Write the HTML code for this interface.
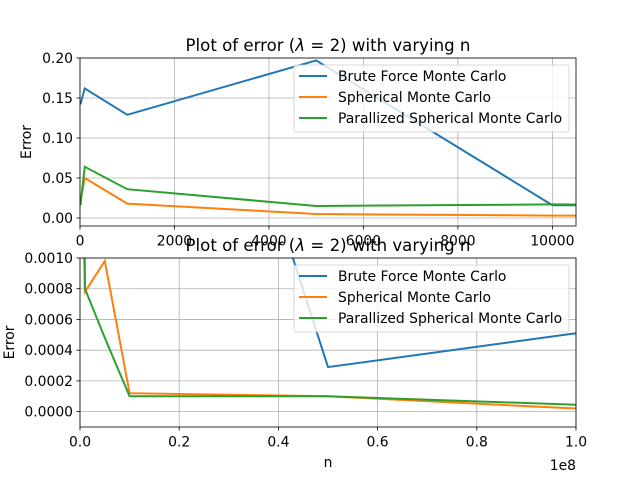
<!DOCTYPE html>
<html><head><meta charset="utf-8"><style>
body{margin:0;background:#fff}
svg text{font-family:"DejaVu Sans","Liberation Sans",sans-serif;fill:#000}
</style></head><body>
<svg id="c" width="640" height="480" viewBox="0 0 640 480" xmlns="http://www.w3.org/2000/svg"></svg>
<script>
const nValues = [10,100,1000,5000,10000,100000,1000000,5000000,10000000,50000000,100000000];
const bruteForce = [0.142,0.162,0.129,0.197,0.016,0.016,0.012,0.008,0.0043,0.00029,0.00051];
const spherical = [0.02,0.05,0.018,0.005,0.003,0.002,0.00078,0.00098,0.00012,0.0001,0.00002];
const parallel = [0.016,0.064,0.036,0.015,0.017,0.005,0.0008,0.00048,0.0001,0.0001,0.000045];
const seriesNames = ["Brute Force Monte Carlo","Spherical Monte Carlo","Parallized Spherical Monte Carlo"];
const topXTicks = [0,2000,4000,6000,8000,10000];
const topYTicks = [0,0.05,0.10,0.15,0.20];
const topYLabels = ["0.00","0.05","0.10","0.15","0.20"];
const botXTicks = [0,0.2e8,0.4e8,0.6e8,0.8e8,1e8];
const botXLabels = ["0.0","0.2","0.4","0.6","0.8","1.0"];
const botYTicks = [0,0.0002,0.0004,0.0006,0.0008,0.001];
const botYLabels = ["0.0000","0.0002","0.0004","0.0006","0.0008","0.0010"];

const NS="http://www.w3.org/2000/svg";
const svg=document.getElementById('c');
const colors=["#1f77b4","#ff7f0e","#2ca02c"];
function mk(tag,attrs,parent){const e=document.createElementNS(NS,tag);for(const k in attrs)e.setAttribute(k,attrs[k]);(parent||svg).appendChild(e);return e;}

function panel(id,L,T,R,B,xmin,xmax,ymin,ymax,xt,xl,yt,yl,ylabX){
  const sx=v=>L+(v-xmin)/(xmax-xmin)*(R-L);
  const sy=v=>B-(v-ymin)/(ymax-ymin)*(B-T);
  const g=mk('g',{});
  
  
  mk('rect',{x:L,y:T,width:R-L,height:B-T,fill:'#fff'},g);
  const cp=mk('clipPath',{id:id+'clip'},g);mk('rect',{x:L,y:T,width:R-L,height:B-T},cp);
  xt.forEach((v,i)=>{const x=sx(v);
    const gl=mk('line',{x1:x,x2:x,y1:T,y2:B,stroke:'#b0b0b0','stroke-width':0.8},g);
    
    mk('line',{x1:x,x2:x,y1:B,y2:B+3.5,stroke:'#000','stroke-width':0.8},g);
    const t=mk('text',{x:x,y:B+19.5,'font-size':13.9,'text-anchor':'middle'},g);t.textContent=xl[i];
    });
  yt.forEach((v,i)=>{const y=sy(v);
    const gl=mk('line',{x1:L,x2:R,y1:y,y2:y,stroke:'#b0b0b0','stroke-width':0.8},g);
    
    mk('line',{x1:L-3.5,x2:L,y1:y,y2:y,stroke:'#000','stroke-width':0.8},g);
    const t=mk('text',{x:L-7,y:y+5,'font-size':13.9,'text-anchor':'end'},g);t.textContent=yl[i];
    });
  [bruteForce,spherical,parallel].forEach((s,k)=>{
    const p=mk('polyline',{points:nValues.map((n,i)=>sx(n)+','+sy(s[i])).join(' '),fill:'none',stroke:colors[k],'stroke-width':2,'clip-path':'url(#'+id+'clip)'},g);
    });
  mk('rect',{x:L,y:T,width:R-L,height:B-T,fill:'none',stroke:'#000','stroke-width':0.8},g);
  const yl2=mk('text',{x:ylabX,y:(T+B)/2,'font-size':13.9,'text-anchor':'middle',transform:'rotate(-90 '+ylabX+' '+(T+B)/2+')'},g);yl2.textContent='Error';
  
  const xlab=mk('text',{x:(L+R)/2,y:B+40,'font-size':13.9,'text-anchor':'middle'},g);xlab.textContent='n';
  
  const lg=mk('g',{},g);
  
  mk('rect',{x:294,y:T+7,width:275,height:67,rx:2,fill:'#fff','fill-opacity':0.8,stroke:'#ccc','stroke-width':0.8},lg);
  seriesNames.forEach((nm,k)=>{const y=T+18+k*21;
    const ln=mk('line',{x1:299,x2:327,y1:y,y2:y,stroke:colors[k],'stroke-width':2},lg);
    
    const t=mk('text',{x:338,y:y+5,'font-size':13.9},lg);t.textContent=nm;
    });
  const ti=mk('text',{x:(L+R)/2,y:T-7,'font-size':16.6,'text-anchor':'middle'});
  ti.innerHTML='Plot of error (<tspan font-style="italic">\u03BB</tspan> = 2) with varying n';
  
}
panel('top',80,58,576,226,0,10500,-0.01,0.2,topXTicks,topXTicks.map(String),topYTicks,topYLabels,31);
panel('bottom',80,258,576,427,0,1e8,-0.0001,0.001,botXTicks,botXLabels,botYTicks,botYLabels,14);
const off=mk('text',{x:576,y:470,'font-size':13.9,'text-anchor':'end'});off.textContent='1e8';

</script>
</body></html>
